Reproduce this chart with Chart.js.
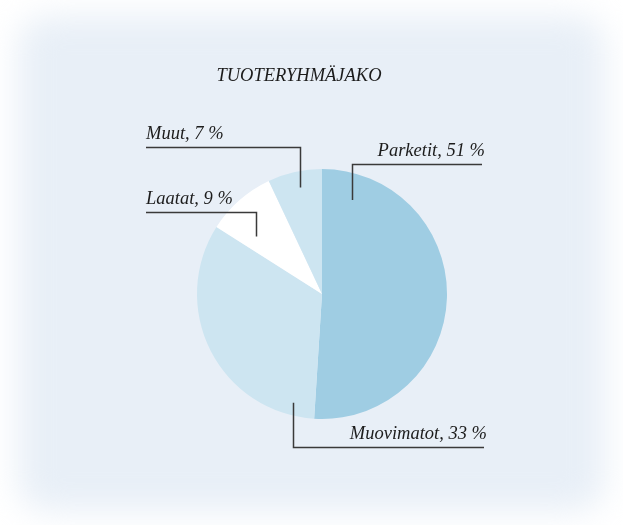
<!DOCTYPE html>
<html>
<head>
<meta charset="utf-8">
<script src="https://cdn.jsdelivr.net/npm/chart.js@4/dist/chart.umd.min.js"></script>
<style>
  html, body { margin: 0; padding: 0; background: #fff; }
  #wrap { position: relative; width: 623px; height: 525px; overflow: hidden; background: #fff; }
  #bg { position: absolute; left: 18px; top: 16px; right: 18px; bottom: 14px;
        background: #e8eff7; border-radius: 30px; filter: blur(16px); }
  #chart { position: absolute; left: 0; top: 0; }
</style>
</head>
<body>
<div id="wrap">
  <div id="bg"></div>
  <canvas id="chart" width="623" height="525"></canvas>
</div>
<script>
// Tuoteryhmäjako, osuudet prosentteina
var categories = ['Parketit', 'Muovimatot', 'Laatat', 'Muut'];
var shares = [51, 33, 9, 7];
var sliceColors = ['#9fcde3', '#cde5f1', '#ffffff', '#cde5f1'];
var chartTitle = 'TUOTERYHMÄJAKO';

// leader line layout: where in the slice the line starts, where it turns and ends
var leaders = [
    { t: 0.096, r: 0.79, dy: -130, dx: 160, side: 'right' },
    { t: 0.095, r: 0.90, dy: 153, dx: 162, side: 'right' },
    { t: 0.27, r: 0.70, dy: -82, dx: -176, side: 'left' },
    { t: 0.54, r: 0.87, dy: -147, dx: -176, side: 'left' }
];

var FONT = 'italic 18.5px "Liberation Serif", "DejaVu Serif", serif';

var labelPlugin = {
    id: 'leaderLabels',
    afterDraw: function (chart) {
        var ctx = chart.ctx;
        var meta = chart.getDatasetMeta(0);
        ctx.save();
        // title
        ctx.font = FONT;
        ctx.fillStyle = '#1c1c1c';
        ctx.textAlign = 'center';
        ctx.textBaseline = 'alphabetic';
        var area = chart.chartArea;
        var cx0 = (area.left + area.right) / 2;
        ctx.fillText(chartTitle, cx0 - 23, 81);

        meta.data.forEach(function (arc, i) {
            var p = arc.getProps(['x', 'y', 'startAngle', 'endAngle', 'outerRadius'], true);
            var L = leaders[i];
            var a = p.startAngle + (p.endAngle - p.startAngle) * L.t;
            var ax = p.x + Math.cos(a) * p.outerRadius * L.r;
            var ay = p.y + Math.sin(a) * p.outerRadius * L.r;
            var ly = p.y + L.dy;
            var ex = p.x + L.dx;
            ctx.beginPath();
            ctx.strokeStyle = '#3a3a3a';
            ctx.lineWidth = 1.5;
            ctx.moveTo(Math.round(ax) + 0.5, ay);
            ctx.lineTo(Math.round(ax) + 0.5, Math.round(ly) + 0.5);
            ctx.lineTo(ex, Math.round(ly) + 0.5);
            ctx.stroke();

            ctx.fillStyle = '#1c1c1c';
            ctx.font = FONT;
            var txt = categories[i] + ', ' + shares[i] + ' %';
            if (L.side === 'left') {
                ctx.textAlign = 'left';
                ctx.fillText(txt, ex, ly - 8);
            } else {
                ctx.textAlign = 'right';
                ctx.fillText(txt, ex + 3, ly - 8);
            }
        });
        ctx.restore();
    }
};

var ctx = document.getElementById('chart').getContext('2d');
var chart = new Chart(ctx, {
    type: 'pie',
    data: {
        labels: categories,
        datasets: [{
            data: shares,
            backgroundColor: sliceColors,
            borderWidth: 0
        }]
    },
    options: {
        responsive: false,
        animation: false,
        layout: { padding: { left: 197, right: 176, top: 169, bottom: 106 } },
        plugins: {
            legend: { display: false },
            tooltip: { enabled: false },
            title: { display: false }
        }
    },
    plugins: [labelPlugin]
});
</script>
</body>
</html>
